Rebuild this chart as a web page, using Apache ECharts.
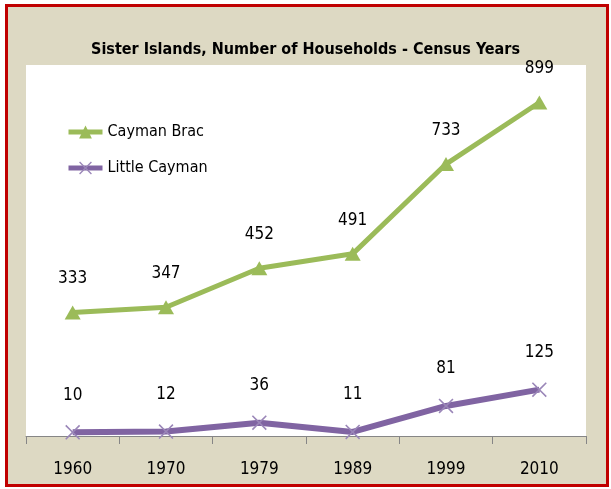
<!DOCTYPE html>
<html>
<head>
<meta charset="utf-8">
<script src="https://cdn.jsdelivr.net/npm/echarts@6/dist/echarts.min.js"></script>
<style>
  html, body { margin: 0; padding: 0; background: #fff; }
  #frame {
    position: absolute; left: 5px; top: 4px; width: 604px; height: 483px;
    box-sizing: border-box; border: 3px solid #c00000; background: #ddd9c3;
  }
  #chart { position: absolute; left: 0; top: 0; width: 611px; height: 489px; }
</style>
</head>
<body>
<div id="frame"></div>
<div id="chart"></div>
<script>
// census years and household counts
var years = ['1960', '1970', '1979', '1989', '1999', '2010'];
var caymanBrac = [333, 347, 452, 491, 733, 899];
var littleCayman = [10, 12, 36, 11, 81, 125];

var FONT = '"DejaVu Sans Condensed", "Liberation Sans Narrow", Arial, sans-serif';
var xMark = 'path://M0,1.5L1.5,0L10,8.5L18.5,0L20,1.5L11.5,10L20,18.5L18.5,20L10,11.5L1.5,20L0,18.5L8.5,10Z';

var chart = echarts.init(document.getElementById('chart'));

var option = {
  backgroundColor: 'transparent',
  animation: false,
  title: {
    text: 'Sister Islands, Number of Households - Census Years',
    left: 'center',
    top: 37,
    textStyle: { fontFamily: FONT, fontWeight: 'bold', fontSize: 16, color: '#000' }
  },
  legend: {
    orient: 'vertical',
    left: 66,
    top: 124,
    padding: 0,
    itemWidth: 34,
    itemHeight: 16,
    itemGap: 20,
    lineStyle: { width: 5 },
    textStyle: { fontFamily: FONT, fontSize: 16, color: '#000' },
    data: ['Cayman Brac', 'Little Cayman']
  },
  grid: {
    left: 26, right: 25, top: 65, bottom: 53,
    show: true, backgroundColor: '#fff', borderWidth: 0
  },
  xAxis: {
    type: 'category',
    data: years,
    boundaryGap: true,
    axisLine: { lineStyle: { color: '#868686', width: 1 } },
    axisTick: { show: true, length: 8, alignWithLabel: false, lineStyle: { color: '#868686' } },
    axisLabel: { fontFamily: FONT, fontSize: 17, color: '#000', margin: 25 },
    splitLine: { show: false }
  },
  yAxis: {
    type: 'value',
    min: 0,
    max: 1000,
    show: false
  },
  series: [
    {
      name: 'Cayman Brac',
      type: 'line',
      data: caymanBrac,
      color: '#9bbb59',
      lineStyle: { width: 5, color: '#9bbb59' },
      symbol: 'triangle',
      symbolSize: [16, 14],
      itemStyle: { color: '#9bbb59' },
      label: {
        show: true, position: 'top', distance: 18,
        fontFamily: FONT, fontSize: 17, color: '#000'
      }
    },
    {
      name: 'Little Cayman',
      type: 'line',
      data: littleCayman,
      color: '#8064a2',
      lineStyle: { width: 6, color: '#8064a2' },
      symbol: xMark,
      symbolSize: 15,
      itemStyle: { color: '#9a86b8' },
      label: {
        show: true, position: 'top', distance: 21,
        fontFamily: FONT, fontSize: 17, color: '#000'
      }
    }
  ]
};

chart.setOption(option);
</script>
</body>
</html>
